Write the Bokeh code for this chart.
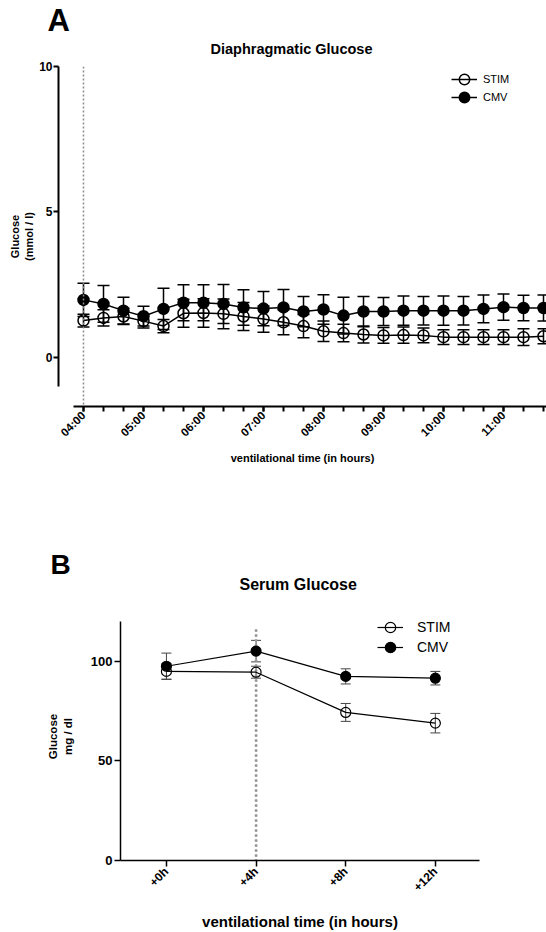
import math
from bokeh.plotting import figure
from bokeh.models import (ColumnDataSource, Whisker, Span, FixedTicker, Title,
                          Legend, LegendItem, Range1d, TeeHead)
from bokeh.embed import file_html
from bokeh.resources import INLINE

# ---------------- Panel A : Diaphragmatic Glucose (mmol / l) ----------------
times_a = ["04:00", "04:20", "04:40", "05:00", "05:20", "05:40", "06:00", "06:20",
           "06:40", "07:00", "07:20", "07:40", "08:00", "08:20", "08:40", "09:00",
           "09:20", "09:40", "10:00", "10:20", "10:40", "11:00", "11:20", "11:40"]
stim_a = [1.27, 1.36, 1.41, 1.25, 1.08, 1.52, 1.53, 1.50, 1.41, 1.32, 1.21, 1.08,
          0.90, 0.84, 0.79, 0.76, 0.77, 0.76, 0.70, 0.70, 0.70, 0.70, 0.70, 0.73]
stim_a_sem = [0.22, 0.28, 0.28, 0.24, 0.23, 0.48, 0.49, 0.51, 0.48, 0.45, 0.43, 0.40,
              0.35, 0.30, 0.29, 0.27, 0.28, 0.25, 0.25, 0.25, 0.25, 0.25, 0.29, 0.26]
cmv_a = [1.98, 1.84, 1.61, 1.42, 1.67, 1.88, 1.88, 1.84, 1.72, 1.68, 1.72, 1.58,
         1.65, 1.44, 1.58, 1.58, 1.61, 1.61, 1.61, 1.61, 1.67, 1.73, 1.70, 1.70]
cmv_a_sem = [0.57, 0.63, 0.46, 0.34, 0.71, 0.62, 0.62, 0.67, 0.61, 0.59, 0.62, 0.52,
             0.51, 0.63, 0.52, 0.48, 0.50, 0.49, 0.50, 0.49, 0.48, 0.45, 0.44, 0.45]
hour_labels_a = ["04:00", "05:00", "06:00", "07:00", "08:00", "09:00", "10:00", "11:00"]
y_ticks_a = [0, 5, 10]
ref_time_a = "04:00"

# ---------------- Panel B : Serum Glucose (mg / dl) ----------------
times_b = ["+0h", "+4h", "+8h", "+12h"]
hours_b = [0, 4, 8, 12]
stim_b = [95.0, 94.6, 74.4, 69.0]
stim_b_sem = [3.9, 3.0, 4.5, 4.9]
cmv_b = [97.6, 105.2, 92.5, 91.6]
cmv_b_sem = [6.6, 5.4, 3.8, 3.4]
y_ticks_b = [0, 50, 100]
ref_hour_b = 4
ref_line_top_b = 118

FONT = "Liberation Sans"


def to_hours(t):
    h, m = t.split(":")
    return int(h) + int(m) / 60.0


def style_axes(p, lw):
    for ax in (p.xaxis[0], p.yaxis[0]):
        ax.axis_line_width = lw
        ax.axis_line_color = "black"
        ax.major_tick_line_width = lw
        ax.minor_tick_line_width = lw
        ax.major_tick_line_color = "black"
        ax.minor_tick_line_color = "black"
        ax.major_tick_in = 0
        ax.minor_tick_in = 0
        ax.major_label_text_font = FONT
        ax.major_label_text_font_style = "bold"
        ax.major_label_text_color = "black"
        ax.axis_label_text_font = FONT
        ax.axis_label_text_font_style = "bold"
        ax.axis_label_text_color = "black"
    p.grid.visible = False
    p.outline_line_color = None


def panel_titles(p, letter, letter_size, letter_offset, letter_standoff,
                 name, name_size, name_offset, name_standoff):
    # p.title is the outermost title; the added one sits next to the frame
    p.title.text = letter
    p.title.align = "left"
    p.title.offset = letter_offset
    p.title.standoff = letter_standoff
    p.title.text_font = FONT
    p.title.text_font_size = letter_size
    p.title.text_font_style = "bold"
    p.title.text_color = "black"
    p.add_layout(Title(text=name, align="left", offset=name_offset, standoff=name_standoff,
                       text_font=FONT, text_font_size=name_size, text_font_style="bold",
                       text_color="black"), "above")


def add_legend_rows(p, rows, first_pad, row_step, right_room, font_size, standoff, glyph):
    # one single-item legend per row, stacked by their top padding
    for i, (label, rends) in enumerate(rows):
        pad = first_pad + i * row_step
        p.add_layout(Legend(items=[LegendItem(label=label, renderers=rends)],
                            location="top_right", margin=0, padding=pad, spacing=0,
                            glyph_width=glyph, glyph_height=glyph, label_standoff=standoff,
                            label_width=right_room - pad, label_height=glyph,
                            label_text_font=FONT, label_text_font_size=font_size,
                            label_text_color="black",
                            border_line_alpha=0, background_fill_alpha=0))


# ======================= Figure A =======================
xa = [to_hours(t) for t in times_a]
src_a = ColumnDataSource(dict(
    x=xa,
    stim=stim_a, stim_lo=[m - s for m, s in zip(stim_a, stim_a_sem)],
    stim_hi=[m + s for m, s in zip(stim_a, stim_a_sem)],
    cmv=cmv_a, cmv_lo=[m - s for m, s in zip(cmv_a, cmv_a_sem)],
    cmv_hi=[m + s for m, s in zip(cmv_a, cmv_a_sem)],
))

pa = figure(frame_width=488, frame_height=340,
            min_border_left=58, min_border_right=0, min_border_top=66, min_border_bottom=98,
            x_range=Range1d(3.5833, 11.7167), y_range=Range1d(-1.684, 10),
            output_backend="svg", toolbar_location=None, tools="")
style_axes(pa, 2)
panel_titles(pa, "A", "31px", -11, -17, "Diaphragmatic Glucose", "14.5px", 152, 19)

hour_vals_a = [to_hours(t) for t in hour_labels_a]
pa.xaxis.ticker = FixedTicker(ticks=hour_vals_a, minor_ticks=xa)
pa.xaxis.major_label_overrides = {int(v): lab for v, lab in zip(hour_vals_a, hour_labels_a)}
pa.xaxis.major_label_orientation = math.pi / 4
pa.xaxis.major_label_text_font_size = "11.5px"
pa.xaxis.major_tick_out = 5
pa.xaxis.minor_tick_out = 5
pa.xaxis.major_label_standoff = 2
pa.xaxis.bounds = (3.8333, 11.7167)
pa.xaxis.axis_label = "ventilational time (in hours)"
pa.xaxis.axis_label_text_font_size = "11px"
pa.xaxis.axis_label_standoff = 6

pa.yaxis.ticker = FixedTicker(ticks=y_ticks_a)
pa.yaxis.bounds = (-1, 10)
pa.yaxis.major_tick_out = 5
pa.yaxis.major_label_standoff = 1
pa.yaxis.major_label_text_font_size = "12px"
pa.yaxis.axis_label = "Glucose\n(mmol / l)"
pa.yaxis.axis_label_text_font_size = "11px"
pa.yaxis.axis_label_standoff = 1

pa.add_layout(Span(location=to_hours(ref_time_a), dimension="height", line_color="#8a8a8a",
                   line_width=1.5, line_dash="2 2"))

for lo, hi in (("cmv_lo", "cmv_hi"), ("stim_lo", "stim_hi")):
    pa.add_layout(Whisker(source=src_a, base="x", lower=lo, upper=hi, line_width=1.5,
                          line_color="black",
                          upper_head=TeeHead(size=12, line_width=1.5, line_color="black"),
                          lower_head=TeeHead(size=12, line_width=1.5, line_color="black")))

la_cmv = pa.line("x", "cmv", source=src_a, line_width=1.5, line_color="black")
sa_cmv = pa.scatter("x", "cmv", source=src_a, size=11, marker="circle",
                    fill_color="black", line_color="black", line_width=1.5)
la_stim = pa.line("x", "stim", source=src_a, line_width=1.5, line_color="black")
sa_stim = pa.scatter("x", "stim", source=src_a, size=11, marker="circle",
                     fill_color=None, line_color="black", line_width=1.5)

add_legend_rows(pa, [("STIM", [la_stim, sa_stim]), ("CMV", [la_cmv, sa_cmv])],
                first_pad=0, row_step=18, right_room=63, font_size="11px", standoff=6, glyph=26)

# ======================= Figure B =======================
src_b = ColumnDataSource(dict(
    x=hours_b,
    stim=stim_b, stim_lo=[m - s for m, s in zip(stim_b, stim_b_sem)],
    stim_hi=[m + s for m, s in zip(stim_b, stim_b_sem)],
    cmv=cmv_b, cmv_lo=[m - s for m, s in zip(cmv_b, cmv_b_sem)],
    cmv_hi=[m + s for m, s in zip(cmv_b, cmv_b_sem)],
))

pb = figure(frame_width=359, frame_height=248,
            min_border_left=120, min_border_right=67, min_border_top=108, min_border_bottom=70,
            x_range=Range1d(-2.05, 13.97), y_range=Range1d(0, 124.6),
            output_backend="svg", toolbar_location=None, tools="")
style_axes(pb, 1.5)
panel_titles(pb, "B", "28px", -70, -53, "Serum Glucose", "16px", 119, 40)

pb.xaxis.ticker = FixedTicker(ticks=hours_b)
pb.xaxis.major_label_overrides = {h: lab for h, lab in zip(hours_b, times_b)}
pb.xaxis.major_label_orientation = math.pi / 4
pb.xaxis.major_label_text_font_size = "12px"
pb.xaxis.major_tick_out = 6
pb.xaxis.major_label_standoff = 3
pb.xaxis.axis_label = "ventilational time (in hours)"
pb.xaxis.axis_label_text_font_size = "15px"
pb.xaxis.axis_label_standoff = 11

pb.yaxis.ticker = FixedTicker(ticks=y_ticks_b)
pb.yaxis.bounds = (0, 120)
pb.yaxis.major_tick_out = 6
pb.yaxis.major_label_standoff = 2
pb.yaxis.major_label_text_font_size = "13px"
pb.yaxis.axis_label = "Glucose\nmg / dl"
pb.yaxis.axis_label_text_font_size = "11.5px"
pb.yaxis.axis_label_standoff = 14

pb.segment(x0=[ref_hour_b], y0=[0], x1=[ref_hour_b], y1=[ref_line_top_b],
           line_color="#999999", line_width=3, line_dash="0 5", line_cap="round")

for lo, hi in (("cmv_lo", "cmv_hi"), ("stim_lo", "stim_hi")):
    pb.add_layout(Whisker(source=src_b, base="x", lower=lo, upper=hi, line_width=1,
                          line_color="#444444",
                          upper_head=TeeHead(size=10, line_width=1, line_color="#444444"),
                          lower_head=TeeHead(size=10, line_width=1, line_color="#444444")))

lb_cmv = pb.line("x", "cmv", source=src_b, line_width=1.2, line_color="black")
sb_cmv = pb.scatter("x", "cmv", source=src_b, size=10, marker="circle",
                    fill_color="black", line_color="black", line_width=1.2)
lb_stim = pb.line("x", "stim", source=src_b, line_width=1.2, line_color="black")
sb_stim = pb.scatter("x", "stim", source=src_b, size=10, marker="circle",
                     fill_color=None, line_color="black", line_width=1.2)

add_legend_rows(pb, [("STIM", [lb_stim, sb_stim]), ("CMV", [lb_cmv, sb_cmv])],
                first_pad=2, row_step=20, right_room=62, font_size="14px", standoff=14, glyph=26)

# two independent roots, stacked (no frame alignment between the panels)
open("out.html", "w").write(file_html([pa, pb], INLINE))
